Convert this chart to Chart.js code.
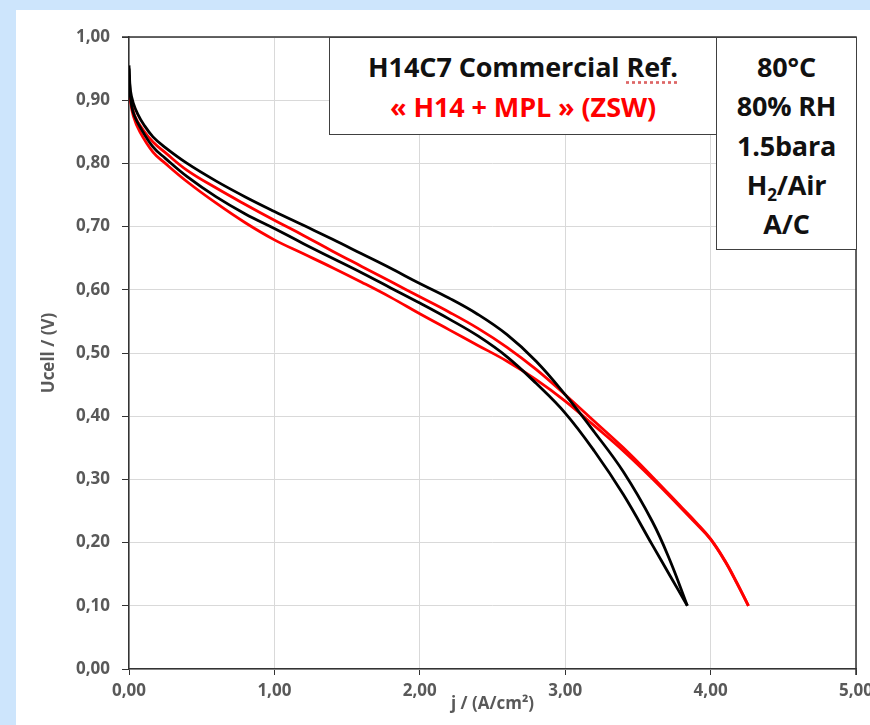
<!DOCTYPE html>
<html>
<head>
<meta charset="utf-8">
<script src="https://cdn.jsdelivr.net/npm/chart.js@4.4.0/dist/chart.umd.min.js"></script>
<style>
  body { margin: 0; background: #cde5fc; width: 870px; height: 725px; overflow: hidden; position: relative; font-family: "Open Sans", sans-serif; }
  #panel { position: absolute; left: 16px; top: 10px; width: 854px; height: 715px; background: #fff; }
  .box { position: absolute; box-sizing: border-box; background: #fff; border: 1.5px solid #404040; font-weight: bold; text-align: center; }
  #legendBox { left: 329px; top: 37px; width: 388px; height: 98px; padding-top: 9px; font-size: 27px; line-height: 40px; letter-spacing: -0.1px; }
  #condBox { left: 716px; top: 37px; width: 141px; height: 213px; padding-top: 9px; font-size: 27px; line-height: 39.3px; color: #111; letter-spacing: -0.2px; }
  .ref { text-decoration: underline dotted #d66; text-underline-offset: 4px; }
  sub { font-size: 17px; line-height: 0; vertical-align: -6px; }
</style>
</head>
<body>
<div id="panel"><canvas id="polChart" width="854" height="715"></canvas></div>
<div class="box" id="legendBox">
  <div style="color:#111">H14C7 Commercial <span class="ref">Ref.</span></div>
  <div style="color:#ff0000">« H14 + MPL » (ZSW)</div>
</div>
<div class="box" id="condBox">
  <div>80°C</div>
  <div>80% RH</div>
  <div>1.5bara</div>
  <div>H<sub>2</sub>/Air</div>
  <div>A/C</div>
</div>
<script>
// tick values
const xTicks = [0, 1, 2, 3, 4, 5];
const yTicks = [0, 0.1, 0.2, 0.3, 0.4, 0.5, 0.6, 0.7, 0.8, 0.9, 1.0];

// H14C7 commercial ref - upper and lower branch (black)
const refUpJ = [0, 0.01, 0.03, 0.06, 0.1, 0.165, 0.25, 0.4, 0.6, 0.8, 1.0, 1.2, 1.4, 1.6, 1.8, 2.0, 2.2, 2.4, 2.6, 2.8, 3.0, 3.2, 3.4, 3.6, 3.72, 3.84];
const refUpU = [0.955, 0.915, 0.895, 0.878, 0.862, 0.842, 0.825, 0.800, 0.772, 0.747, 0.724, 0.702, 0.680, 0.657, 0.634, 0.610, 0.587, 0.561, 0.529, 0.487, 0.434, 0.375, 0.312, 0.233, 0.172, 0.100];
const refLoJ = [0, 0.01, 0.03, 0.075, 0.165, 0.25, 0.4, 0.6, 0.8, 1.0, 1.2, 1.4, 1.6, 1.8, 2.0, 2.2, 2.4, 2.6, 2.8, 3.0, 3.2, 3.4, 3.6, 3.72, 3.84];
const refLoU = [0.950, 0.905, 0.880, 0.858, 0.826, 0.808, 0.779, 0.747, 0.720, 0.697, 0.673, 0.650, 0.627, 0.603, 0.579, 0.554, 0.527, 0.494, 0.452, 0.405, 0.345, 0.276, 0.196, 0.148, 0.100];

// H14 + MPL (ZSW) - upper and lower branch (red)
const mplUpJ = [0, 0.01, 0.04, 0.1, 0.165, 0.25, 0.4, 0.6, 0.8, 1.0, 1.2, 1.4, 1.6, 1.8, 2.0, 2.2, 2.4, 2.6, 2.8, 3.0, 3.2, 3.4, 3.6, 3.8, 3.9, 4.0, 4.1, 4.18, 4.26];
const mplUpU = [0.940, 0.905, 0.875, 0.852, 0.834, 0.817, 0.789, 0.761, 0.735, 0.710, 0.686, 0.661, 0.637, 0.613, 0.589, 0.565, 0.539, 0.509, 0.474, 0.434, 0.392, 0.350, 0.304, 0.256, 0.232, 0.206, 0.171, 0.137, 0.100];
const mplLoJ = [0, 0.01, 0.03, 0.075, 0.165, 0.25, 0.4, 0.6, 0.8, 1.0, 1.2, 1.4, 1.6, 1.8, 2.0, 2.2, 2.4, 2.6, 2.8, 3.0, 3.2, 3.4, 3.6, 3.8, 3.9, 4.0, 4.1, 4.18, 4.26];
const mplLoU = [0.935, 0.900, 0.875, 0.850, 0.818, 0.800, 0.771, 0.737, 0.706, 0.679, 0.657, 0.635, 0.612, 0.588, 0.562, 0.537, 0.512, 0.487, 0.458, 0.424, 0.385, 0.345, 0.301, 0.254, 0.230, 0.205, 0.170, 0.136, 0.100];

function toPoints(xs, ys) {
  return xs.map((x, i) => ({ x: x, y: ys[i] }));
}

function fmt(v) {
  return v.toFixed(2).replace('.', ',');
}

const tickFont = { family: '"Open Sans", sans-serif', size: 17, weight: 'bold' };
const axisGrey = '#595959';

// top and right frame of the plot area
const frame = {
  id: 'frame',
  beforeDatasetsDraw(chart) {
    const a = chart.chartArea;
    const ctx = chart.ctx;
    ctx.save();
    ctx.strokeStyle = '#333';
    ctx.lineWidth = 1.5;
    ctx.beginPath();
    ctx.moveTo(a.left - 7, a.top);
    ctx.lineTo(a.right, a.top);
    ctx.lineTo(a.right, a.bottom + 6);
    ctx.stroke();
    ctx.restore();
  }
};

function lineSet(label, xs, ys, color) {
  return {
    label: label,
    data: toPoints(xs, ys),
    borderColor: color,
    borderWidth: 2.8,
    pointRadius: 0,
    fill: false,
    tension: 0.4
  };
}

const ctx = document.getElementById('polChart');
const polChart = new Chart(ctx, {
  type: 'line',
  data: {
    datasets: [
      lineSet('H14C7 Commercial Ref. (up)', refUpJ, refUpU, '#000000'),
      lineSet('H14C7 Commercial Ref. (down)', refLoJ, refLoU, '#000000'),
      lineSet('H14 + MPL (ZSW) (up)', mplUpJ, mplUpU, '#ff0000'),
      lineSet('H14 + MPL (ZSW) (down)', mplLoJ, mplLoU, '#ff0000')
    ]
  },
  options: {
    responsive: false,
    animation: false,
    devicePixelRatio: 1,
    layout: { padding: { top: 27, right: 14, left: 0, bottom: 0 } },
    plugins: {
      legend: { display: false },
      tooltip: { enabled: false }
    },
    scales: {
      x: {
        type: 'linear',
        min: 0,
        max: 5,
        afterBuildTicks: (scale) => { scale.ticks = xTicks.map(v => ({ value: v })); },
        afterFit: (scale) => { scale.height = 56; scale.paddingLeft = 0; scale.paddingRight = 0; },
        ticks: { callback: fmt, font: tickFont, color: axisGrey, padding: 6, maxRotation: 0 },
        grid: { color: '#d9d9d9', tickColor: '#333', tickLength: 6 },
        border: { color: '#333', width: 1.5 },
        title: {
          display: true,
          text: 'j / (A/cm²)',
          font: tickFont,
          color: axisGrey,
          padding: { top: 0, bottom: 11 }
        }
      },
      y: {
        type: 'linear',
        min: 0,
        max: 1,
        afterBuildTicks: (scale) => { scale.ticks = yTicks.map(v => ({ value: v })); },
        afterFit: (scale) => { scale.width = 113; scale.paddingTop = 0; scale.paddingBottom = 0; },
        ticks: { callback: fmt, font: tickFont, color: axisGrey, padding: 12 },
        grid: { color: '#d9d9d9', tickColor: '#333', tickLength: 7 },
        border: { color: '#333', width: 1.5 },
        title: {
          display: true,
          text: 'Ucell / (V)',
          font: tickFont,
          color: axisGrey,
          padding: { top: 23 }
        }
      }
    }
  },
  plugins: [frame]
});
</script>
</body>
</html>
